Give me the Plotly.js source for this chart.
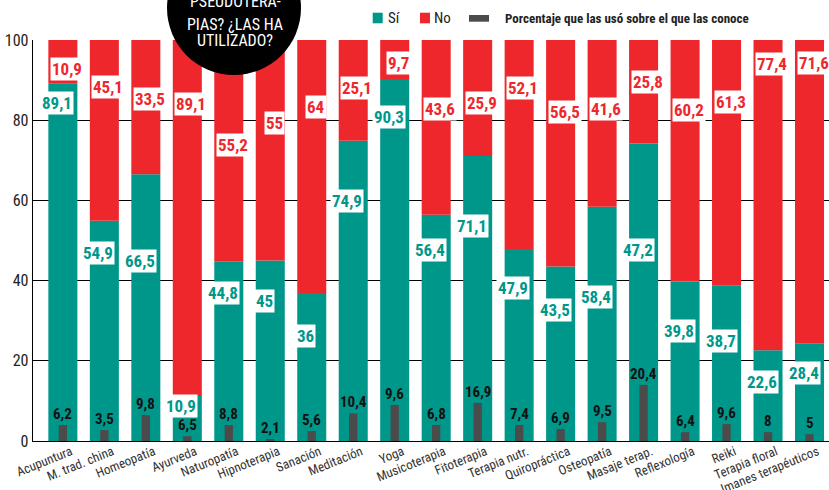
<!DOCTYPE html>
<html>
<head>
<meta charset="utf-8">
<script src="https://cdn.plot.ly/plotly-3.0.1.min.js"></script>
<style>html,body{margin:0;padding:0;background:#fff;}#chart{width:829px;height:490px;}</style>
</head>
<body>
<div id="chart"></div>
<script>
// ---- data ----
const categories = ["Acupuntura","M. trad. china","Homeopatía","Ayurveda","Naturopatía","Hipnoterapia","Sanación","Meditación","Yoga","Musicoterapia","Fitoterapia","Terapia nutr.","Quiropráctica","Osteopatía","Masaje terap.","Reflexología","Reiki","Terapia floral","Imanes terapéuticos"];
// drawn heights of the "Sí" and "No" segments (as they appear)
const siValues = [89.1,54.9,66.5,11.2,44.8,45,36.9,74.9,90.3,56.4,71.1,47.9,43.5,58.4,74.2,39.8,38.7,22.6,24.4];
const noValues = [10.9,45.1,33.5,88.8,55.2,55,63.1,25.1,9.7,43.6,28.9,52.1,56.5,41.6,25.8,60.2,61.3,77.4,75.6];
// printed labels
const siLabels = [89.1,54.9,66.5,10.9,44.8,45,36,74.9,90.3,56.4,71.1,47.9,43.5,58.4,47.2,39.8,38.7,22.6,28.4];
const noLabels = [10.9,45.1,33.5,89.1,55.2,55,64,25.1,9.7,43.6,25.9,52.1,56.5,41.6,25.8,60.2,61.3,77.4,71.6];
// "Porcentaje que las usó sobre el que las conoce": drawn heights and printed labels
const usoValues = [4.0,2.7,6.5,1.2,4.0,0.5,2.5,6.9,9.0,4.0,9.5,4.0,3.0,4.7,14.0,2.2,4.2,2.2,1.7];
const usoLabels = [6.2,3.5,9.8,6.5,8.8,2.1,5.6,10.4,9.6,6.8,16.9,7.4,6.9,9.5,20.4,6.4,9.6,8,5];
const yTicks = [0,20,40,60,80,100];

// ---- label placement (layout, not data) ----
const siLabelY = [84.3,47,45,8.8,36.9,35,26.3,59.9,80.7,47.6,53.6,38.2,32.7,36,47.6,27.4,25,14.6,16.9];
const noLabelY = [92.8,88.4,85.2,84,73.8,79.2,83.2,88,94.2,82.9,84.4,88.1,82,82.9,89.6,82.5,84.6,93.9,94.2];

const TEAL = "#00978b", RED = "#ee272d", DARK = "#4b4b4b";
const FONT = "'Liberation Sans Narrow', 'Roboto Condensed', 'DejaVu Sans Condensed', 'Arial Narrow', sans-serif";
const fmt = v => String(v).replace('.', ',');
const xs = categories.map((c, i) => i);

// plot area in px: left 33, right 829, top 40, bottom 441
const PL = 33, PR = 829, PT = 40, PB = 441;
const px = x => (x - PL) / (PR - PL);
const py = y => (PB - y) / (PB - PT);

const traces = [
  {type: 'bar', x: xs, y: siValues, width: 0.7, marker: {color: TEAL}, hoverinfo: 'skip', showlegend: false},
  {type: 'bar', x: xs, y: noValues, base: siValues, width: 0.7, marker: {color: RED}, hoverinfo: 'skip', showlegend: false},
  {type: 'bar', x: xs, y: usoValues, width: 0.2, marker: {color: DARK}, hoverinfo: 'skip', showlegend: false}
];

const annotations = [];
xs.forEach(i => {
  annotations.push({x: i, y: siLabelY[i], xref: 'x', yref: 'y', text: fmt(siLabels[i]), showarrow: false,
    xshift: -6, bgcolor: '#fff', borderpad: 1, font: {family: FONT, size: 17, color: TEAL, weight: 'bold'}});
  annotations.push({x: i, y: noLabelY[i], xref: 'x', yref: 'y', text: fmt(noLabels[i]), showarrow: false,
    xshift: 4, bgcolor: '#fff', borderpad: 1, font: {family: FONT, size: 17, color: RED, weight: 'bold'}});
  annotations.push({x: i, y: usoValues[i], xref: 'x', yref: 'y', text: fmt(usoLabels[i]), showarrow: false,
    yanchor: 'bottom', yshift: 0, font: {family: FONT, size: 15, color: '#111', weight: 'bold'}});
});

// circle title text (partially cut at top)
const circleLines = ["PSEUDOTERA-", "PIAS? ¿LAS HA", "UTILIZADO?"];
const circleY = [2, 24, 41];
circleLines.forEach((t, k) => annotations.push({x: px(235), y: py(circleY[k]), xref: 'paper', yref: 'paper',
  text: t, showarrow: false, xanchor: 'center', yanchor: 'middle', font: {family: FONT, size: 16, color: '#fff'}}));

// legend
annotations.push({x: px(386), y: py(18), xref: 'paper', yref: 'paper', text: 'Sí', showarrow: false, xanchor: 'left', yanchor: 'middle',
  font: {family: FONT, size: 15, color: '#222'}});
annotations.push({x: px(432), y: py(18), xref: 'paper', yref: 'paper', text: 'No', showarrow: false, xanchor: 'left', yanchor: 'middle',
  font: {family: FONT, size: 15, color: '#222'}});
annotations.push({x: px(503), y: py(18), xref: 'paper', yref: 'paper', text: 'Porcentaje que las usó sobre el que las conoce', showarrow: false,
  xanchor: 'left', yanchor: 'middle', font: {family: FONT, size: 13, color: '#222', weight: 'bold'}});

const shapes = [
  {type: 'circle', xref: 'paper', yref: 'paper', x0: px(167), x1: px(301), y0: py(-59), y1: py(75), fillcolor: '#000', line: {width: 0}, layer: 'above'},
  {type: 'rect', xref: 'paper', yref: 'paper', x0: px(372.7), x1: px(382.7), y0: py(23.3), y1: py(12.7), fillcolor: TEAL, line: {width: 0}},
  {type: 'rect', xref: 'paper', yref: 'paper', x0: px(420), x1: px(430), y0: py(23.3), y1: py(12.7), fillcolor: RED, line: {width: 0}},
  {type: 'rect', xref: 'paper', yref: 'paper', x0: px(469), x1: px(489), y0: py(21.7), y1: py(15), fillcolor: DARK, line: {width: 0}}
];

const layout = {
  width: 829, height: 490,
  margin: {l: PL, r: 829 - PR, t: PT, b: 490 - PB, pad: 0},
  paper_bgcolor: '#fff', plot_bgcolor: '#fff',
  barmode: 'overlay',
  showlegend: false,
  font: {family: FONT, color: '#222'},
  xaxis: {range: [-0.72, 18.47], tickmode: 'array', tickvals: xs, ticktext: categories, tickangle: -22,
    ticklabelshift: 8, ticklabelstandoff: -3,
    showgrid: false, zeroline: false, showline: true, linecolor: '#000', linewidth: 1.3, ticks: '',
    tickfont: {family: FONT, size: 13, color: '#333'}, fixedrange: true},
  yaxis: {range: [0, 100], tickmode: 'array', tickvals: yTicks, ticktext: yTicks.map(String),
    showgrid: true, gridcolor: '#000', gridwidth: 1.3, zeroline: false, showline: true, linecolor: '#000', linewidth: 1.3,
    ticks: '', tickfont: {family: FONT, size: 16, color: '#222'}, fixedrange: true},
  shapes: shapes,
  annotations: annotations
};

Plotly.newPlot('chart', traces, layout, {displayModeBar: false, staticPlot: true});
</script>
</body>
</html>
